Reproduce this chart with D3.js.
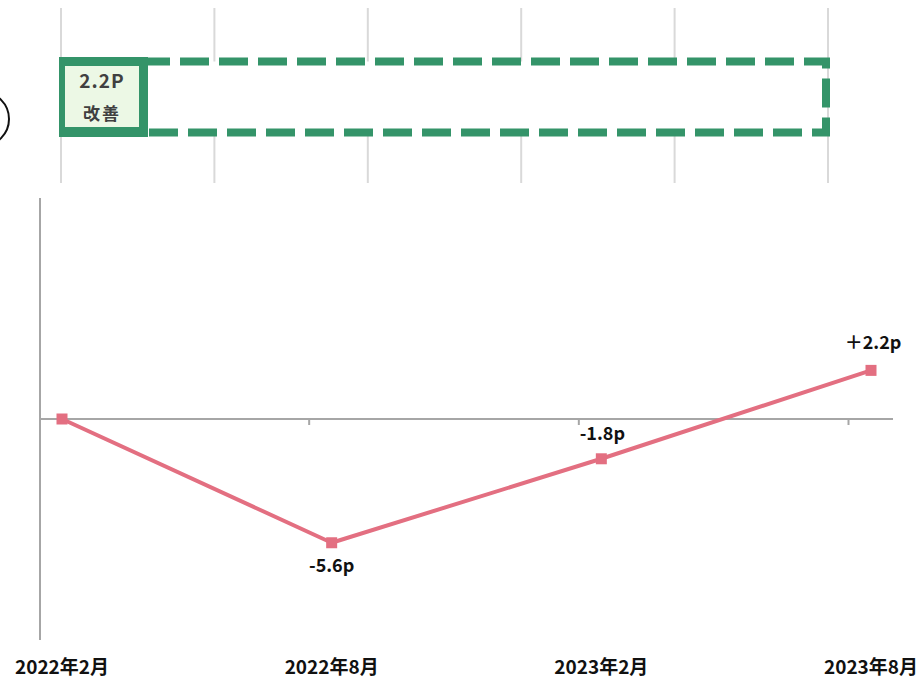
<!DOCTYPE html>
<html><head><meta charset="utf-8">
<script src="https://cdn.jsdelivr.net/npm/d3@7"></script>
<style>
html,body{margin:0;padding:0;background:#fff;}
svg{display:block;}
</style></head>
<body>
<svg id="c" width="924" height="679"></svg>
<script>
const categories = ["2022年2月","2022年8月","2023年2月","2023年8月"];
const values = [0, -5.6, -1.8, 2.2];
const valueLabels = ["", "-5.6p", "-1.8p", "＋2.2p"];
const topGrid = [0,1,2,3,4,5];
const badgeValue = "2.2P";
const badgeText = "改善";

const svg = d3.select("#c");
const FONT = "'Noto Sans CJK JP','Noto Sans',sans-serif";

// top decorative band
const xt = d3.scaleLinear().domain([0,5]).range([61,828]);
svg.append("g").selectAll("line").data(topGrid).join("line")
  .attr("x1", d=>xt(d)).attr("x2", d=>xt(d)).attr("y1", 8).attr("y2", 183)
  .attr("stroke", "#d9d9d9").attr("stroke-width", 2);

// partial circle at left
svg.append("circle").attr("cx", -18).attr("cy", 119).attr("r", 27)
  .attr("fill", "none").attr("stroke", "#111").attr("stroke-width", 2);

const green = "#349469";
svg.append("rect").attr("x", 63).attr("y", 61.5).attr("width", 763).attr("height", 71)
  .attr("fill", "#fff").attr("stroke", green).attr("stroke-width", 8)
  .attr("stroke-dasharray", "29,10");
svg.append("rect").attr("x", 59).attr("y", 57).attr("width", 89).attr("height", 80)
  .attr("fill", green);
svg.append("rect").attr("x", 65).attr("y", 66).attr("width", 74).attr("height", 61)
  .attr("fill", "#ecf8e5");
svg.append("text").attr("x", 102).attr("y", 88).attr("text-anchor","middle")
  .attr("font-family", FONT).attr("font-weight","bold").attr("font-size", 19)
  .attr("letter-spacing", 1).attr("fill","#404040").text(badgeValue);
svg.append("text").attr("x", 102).attr("y", 120).attr("text-anchor","middle")
  .attr("font-family", FONT).attr("font-weight","bold").attr("font-size", 17)
  .attr("letter-spacing", 2).attr("fill","#404040").text(badgeText);

// line chart
const x = d3.scalePoint().domain(categories).range([62, 871]);
const y = d3.scaleLinear().domain([-10, 10]).range([640, 198]);
const axisCol = "#a6a6a6";

svg.append("line").attr("x1", 40).attr("x2", 40).attr("y1", y(10)).attr("y2", y(-10))
  .attr("stroke", axisCol).attr("stroke-width", 2);
svg.append("line").attr("x1", 40).attr("x2", 893).attr("y1", y(0)).attr("y2", y(0))
  .attr("stroke", axisCol).attr("stroke-width", 2);
svg.append("g").selectAll("line").data(categories.slice(1)).join("line")
  .attr("x1", d=>x(d)-22.5).attr("x2", d=>x(d)-22.5)
  .attr("y1", y(0)).attr("y2", y(0)+6)
  .attr("stroke", axisCol).attr("stroke-width", 2);

const pink = "#e36f81";
const line = d3.line().x((d,i)=>x(categories[i])).y(d=>y(d));
svg.append("path").datum(values).attr("d", line)
  .attr("fill","none").attr("stroke", pink).attr("stroke-width", 4)
  .attr("stroke-linejoin","round");
svg.append("g").selectAll("rect").data(values).join("rect")
  .attr("x", (d,i)=>x(categories[i])-5.5).attr("y", d=>y(d)-5.5)
  .attr("width", 11).attr("height", 11).attr("fill", pink);

const labelOffsets = [0, 29, -19, -21];
svg.append("g").selectAll("text").data(values).join("text")
  .attr("x", (d,i)=>x(categories[i]) + (i===3 ? 2 : (i===2 ? 1 : 0)))
  .attr("y", (d,i)=>y(d)+labelOffsets[i])
  .attr("text-anchor","middle")
  .attr("font-family", FONT).attr("font-weight","bold").attr("font-size", 18)
  .attr("fill","#111").text((d,i)=>valueLabels[i]);

svg.append("g").selectAll("text").data(categories).join("text")
  .attr("x", d=>x(d)).attr("y", 674).attr("text-anchor","middle")
  .attr("font-family", FONT).attr("font-weight","bold").attr("font-size", 19)
  .attr("fill","#111").text(d=>d);
</script>
</body></html>
